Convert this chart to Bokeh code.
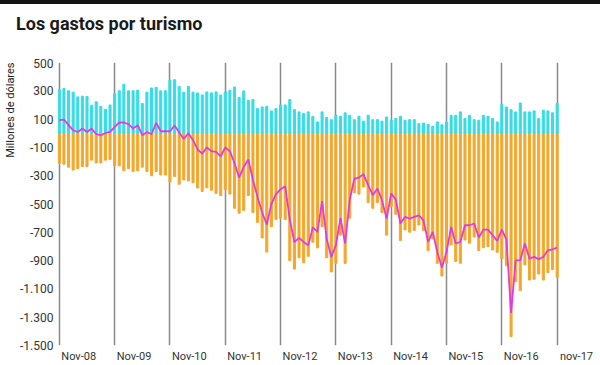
import numpy as np
from bokeh.plotting import figure
from bokeh.models import FixedTicker, Title, Div
from bokeh.layouts import column
from bokeh.embed import file_html
from bokeh.resources import INLINE

# ---- data (monthly, Nov-2008 .. Nov-2017), millions of dollars ----
chart_title = "Los gastos por turismo"
tick_labels = ["Nov-08", "Nov-09", "Nov-10", "Nov-11", "Nov-12",
               "Nov-13", "Nov-14", "Nov-15", "Nov-16", "nov-17"]
y_ticks = [500, 300, 100, -100, -300, -500, -700, -900, -1100, -1300, -1500]
y_tick_labels = ["500", "300", "100", "-100", "-300", "-500", "-700", "-900",
                 "-1.100", "-1.300", "-1.500"]

income = [310, 316, 300, 290, 257, 262, 260, 198, 222, 190, 168, 200,
          280, 300, 346, 300, 300, 305, 210, 290, 320, 325, 300, 300,
          375, 378, 330, 290, 330, 290, 285, 270, 292, 285, 292, 270,
          292, 304, 327, 252, 299, 233, 238, 174, 186, 191, 158, 174,
          200, 200, 238, 167, 151, 139, 151, 120, 80, 151, 111, 96,
          127, 120, 144, 127, 96, 120, 85, 127, 96, 96, 85, 115,
          92, 104, 120, 92, 96, 96, 68, 72, 62, 49, 80, 60,
          80, 127, 127, 151, 104, 127, 96, 92, 127, 120, 104, 80,
          205, 186, 167, 151, 214, 151, 151, 158, 104, 163, 158, 144, 210]

expense = [-214, -219, -240, -260, -250, -235, -235, -190, -210, -210, -190, -185,
           -230, -230, -265, -250, -270, -265, -240, -270, -300, -270, -295, -295,
           -345, -305, -360, -330, -337, -350, -387, -411, -386, -403, -425, -441,
           -400, -430, -530, -565, -545, -440, -560, -630, -740, -840, -660, -610,
           -600, -610, -900, -960, -880, -915, -870, -770, -810, -660, -880, -980,
           -920, -720, -920, -600, -420, -430, -380, -490, -530, -490, -560, -720,
           -518, -573, -758, -683, -699, -687, -648, -687, -830, -746, -919, -1009,
           -919, -789, -906, -919, -754, -777, -734, -829, -808, -801, -825, -841,
           -886, -937, -1437, -1049, -1112, -930, -1037, -1032, -995, -1037, -985, -964, -1018]

balance = [92, 97, 57, 21, 9, 33, 9, 33, -7, -14, 2, 9,
           45, 76, 76, 64, 33, 57, -14, 9, -7, 73, 14, 14,
           14, 55, 5, -40, 0, -49, -115, -144, -101, -127, -132, -163,
           -101, -127, -210, -313, -238, -186, -330, -450, -560, -645, -500, -430,
           -395, -375, -610, -770, -740, -768, -791, -665, -697, -480, -745, -874,
           -791, -600, -779, -470, -320, -313, -290, -367, -438, -391, -473, -603,
           -426, -469, -638, -591, -603, -591, -580, -615, -768, -697, -839, -949,
           -839, -662, -779, -768, -650, -650, -638, -737, -681, -681, -721, -761,
           -681, -751, -1270, -898, -898, -779, -886, -874, -891, -874, -827, -820, -808]

months = list(range(len(income)))
year_starts = months[::12]
label_pos = [g + 4.2 for g in year_starts]

FONT = "Roboto"
TXT = "#333333"

# header: black rule + title
head = Div(
    text=('<div style="width:600px;height:4px;background:#141414"></div>'
          '<div style="padding:10px 0 0 16px;font-family:Roboto;font-size:18px;'
          'font-weight:bold;line-height:20px;color:#1a1a1a;white-space:nowrap">'
          + chart_title + '</div>'),
    width=600, height=58, margin=(0, 0, 0, 0))

p = figure(width=600, height=307, x_range=(-0.4, 113.5), y_range=(-1500, 500),
           output_backend="svg", toolbar_location=None, title=None,
           min_border_left=55, min_border_right=18, min_border_top=4,
           min_border_bottom=20, outline_line_color=None, margin=(0, 0, 0, 0))

# grid: vertical year lines only
p.ygrid.grid_line_color = None
p.xgrid.ticker = FixedTicker(ticks=year_starts)
p.xgrid.grid_line_color = "#8a8a8a"
p.xgrid.grid_line_width = 1.5

# bars and balance line
p.vbar(x=months, bottom=expense, top=0, width=0.45, color="#F5A72A")
p.vbar(x=months, bottom=0, top=income, width=0.45, color="#36DDE6")
p.line(x=months, y=balance, line_color="#E23AE0", line_width=1.8)

# y axis
p.yaxis.ticker = FixedTicker(ticks=y_ticks)
p.yaxis.major_label_overrides = dict(zip(y_ticks, y_tick_labels))
p.yaxis.axis_line_color = None
p.yaxis.major_tick_line_color = None
p.yaxis.minor_tick_line_color = None
p.yaxis.major_tick_out = 0
p.yaxis.major_tick_in = 0
p.yaxis.minor_tick_out = 0
p.yaxis.minor_tick_in = 0
p.yaxis.major_label_standoff = 4
p.yaxis.major_label_text_font = FONT
p.yaxis.major_label_text_font_size = "12px"
p.yaxis.major_label_text_color = TXT

# x axis: one label just right of each year line
p.xaxis.ticker = FixedTicker(ticks=label_pos)
p.xaxis.major_label_overrides = dict(zip(label_pos, tick_labels))
p.xaxis.axis_line_color = None
p.xaxis.major_tick_line_color = None
p.xaxis.minor_tick_line_color = None
p.xaxis.major_tick_out = 0
p.xaxis.major_tick_in = 0
p.xaxis.minor_tick_out = 0
p.xaxis.minor_tick_in = 0
p.xaxis.major_label_standoff = 4
p.xaxis.major_label_text_font = FONT
p.xaxis.major_label_text_font_size = "11px"
p.xaxis.major_label_text_color = TXT

# y axis title, aligned to the top of the plot area
p.add_layout(Title(text="Millones de dólares", align="right", standoff=2,
                   text_font=FONT, text_font_size="11px",
                   text_font_style="normal", text_color="#222222"), "left")

layout = column(head, p, spacing=0, margin=(0, 0, 0, 0))
open("out.html", "w").write(file_html(layout, INLINE))
